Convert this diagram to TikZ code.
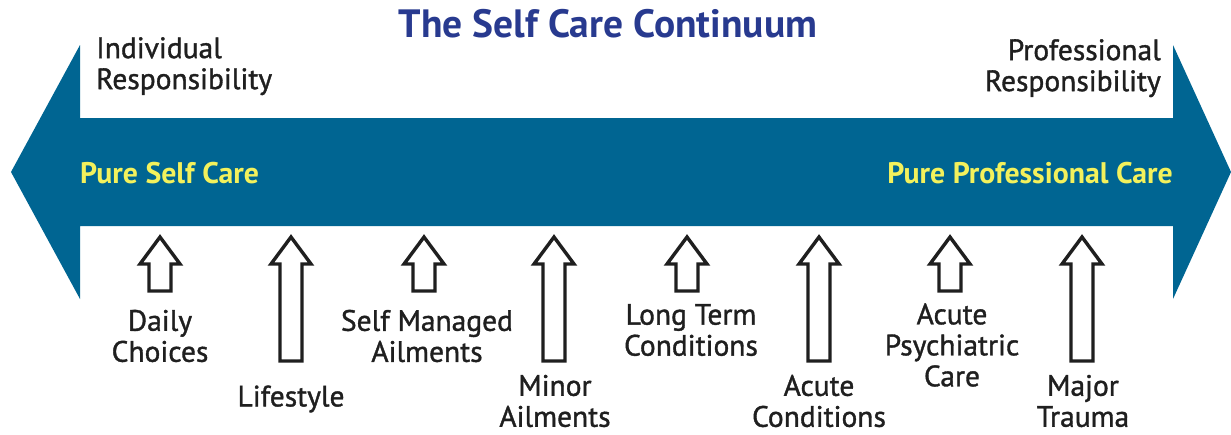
\documentclass[tikz,border=0pt]{standalone}
\usepackage{fontspec}
\setmainfont{PT Sans}
\newfontfamily\medfont[FakeBold=1.2]{PT Sans}
\usetikzlibrary{calc}
\definecolor{bandblue}{HTML}{006592}
\definecolor{titleblue}{HTML}{283A8F}
\definecolor{careyellow}{HTML}{F3F15C}
\tikzset{
  lbl/.style={font=\medfont\fontsize{29.5}{31}\selectfont, text=black!88, align=center, inner sep=0pt},
  bigtxt/.style={font=\fontsize{29.8}{32}\selectfont\bfseries, text=careyellow, inner sep=0pt},
  hollow/.style={draw=black!88, line width=3.4pt, fill=white, line join=miter},
  pics/uparrow/.style={code={
    \draw[hollow] (0,0) -- (20,27) -- (11,27) -- (11,#1) -- (-11,#1) -- (-11,27) -- (-20,27) -- cycle;
  }}
}
\begin{document}
\begin{tikzpicture}[x=1pt,y=-1pt]
\useasboundingbox (0,0) rectangle (1231,434);
% big double arrow
\fill[bandblue] (11,172) -- (80,45) -- (80,118) -- (1173,118) -- (1173,45) -- (1231,172)
  -- (1173,299) -- (1173,226) -- (80,226) -- (80,299) -- cycle;
% title
\node[font=\fontsize{39.5}{44}\selectfont\bfseries, text=titleblue, inner sep=0pt] (title) at (608,24) {The Self Care Continuum};
\node[lbl, align=left, anchor=north west] (indiv) at (96,37) {Individual\\Responsibility};
\node[lbl, align=right, anchor=north east] (prof) at (1161,39) {Professional\\Responsibility};
\node[bigtxt, anchor=west] (pself) at (80,173) {Pure Self Care};
\node[bigtxt, anchor=east] (pprof) at (1173,173) {Pure Professional Care};
% small arrows
\foreach \cx/\len/\nm in {160/54/a1, 291/124/a2, 424/54/a3, 554/124/a4, 687/54/a5, 819/124/a6, 950/54/a7, 1082/124/a8}{
  \pic (\nm) at (\cx,237) {uparrow=\len};
}
% labels
\node[lbl] (l1) at (160,336) {Daily\\Choices};
\node[lbl] (l2) at (291,399) {Lifestyle};
\node[lbl] (l3) at (427,336) {Self Managed\\Ailments};
\node[lbl] (l4) at (555,401) {Minor\\Ailments};
\node[lbl] (l5) at (691,330) {Long Term\\Conditions};
\node[lbl] (l6) at (819,401) {Acute\\Conditions};
\node[lbl] (l7) at (952,345) {Acute\\Psychiatric\\Care};
\node[lbl] (l8) at (1083,401) {Major\\Trauma};
\end{tikzpicture}
\end{document}
